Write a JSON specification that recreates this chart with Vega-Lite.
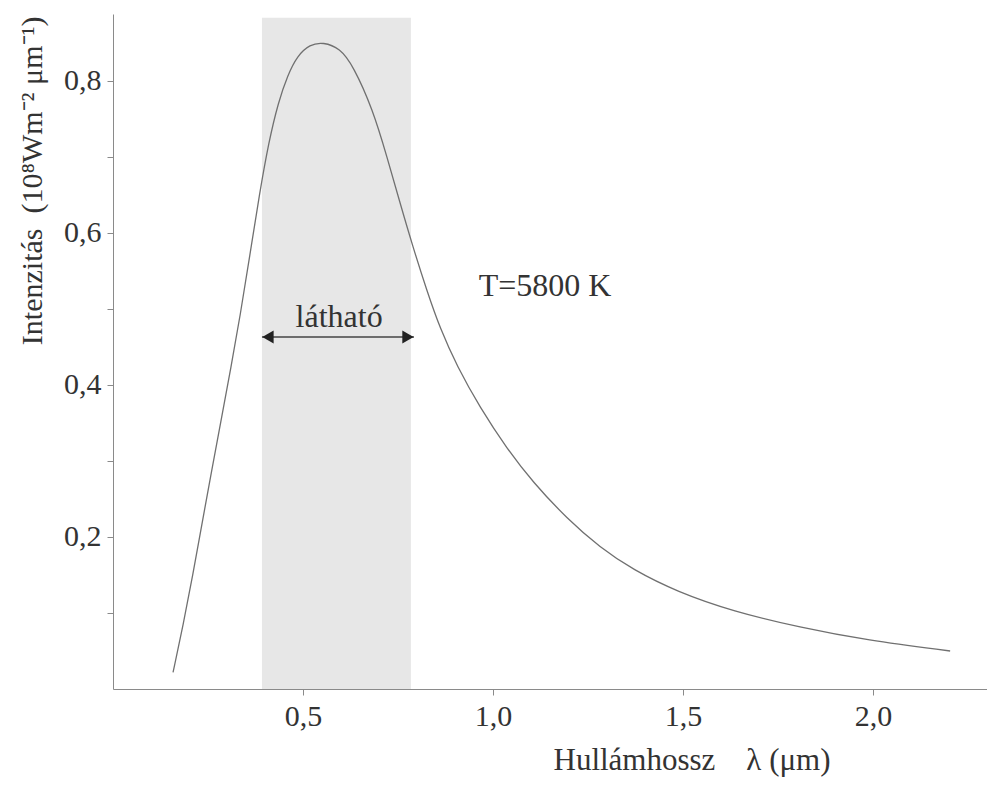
{
  "$schema": "https://vega.github.io/schema/vega-lite/v6.json",
  "width": 874,
  "height": 675,
  "autosize": {"type": "none"},
  "padding": {"left": 113, "top": 14, "right": 0, "bottom": 98},
  "background": "white",
  "config": {"view": {"stroke": null}, "font": "Liberation Serif"},
  "datasets": {
    "curve": [
      {"wl": 0.158, "I": 0.022}, {"wl": 0.185, "I": 0.085}, {"wl": 0.210, "I": 0.150},
      {"wl": 0.235, "I": 0.220}, {"wl": 0.260, "I": 0.288}, {"wl": 0.285, "I": 0.355},
      {"wl": 0.310, "I": 0.422}, {"wl": 0.335, "I": 0.492}, {"wl": 0.360, "I": 0.570},
      {"wl": 0.385, "I": 0.650}, {"wl": 0.410, "I": 0.720}, {"wl": 0.435, "I": 0.772},
      {"wl": 0.460, "I": 0.808}, {"wl": 0.485, "I": 0.833}, {"wl": 0.518, "I": 0.848},
      {"wl": 0.553, "I": 0.851}, {"wl": 0.597, "I": 0.843}, {"wl": 0.632, "I": 0.820},
      {"wl": 0.684, "I": 0.762}, {"wl": 0.721, "I": 0.700}, {"wl": 0.755, "I": 0.640},
      {"wl": 0.789, "I": 0.582}, {"wl": 0.826, "I": 0.524}, {"wl": 0.861, "I": 0.474},
      {"wl": 0.905, "I": 0.425}, {"wl": 0.966, "I": 0.370}, {"wl": 1.037, "I": 0.316},
      {"wl": 1.105, "I": 0.272}, {"wl": 1.195, "I": 0.224}, {"wl": 1.282, "I": 0.186},
      {"wl": 1.368, "I": 0.157}, {"wl": 1.484, "I": 0.128}, {"wl": 1.632, "I": 0.102},
      {"wl": 1.808, "I": 0.081}, {"wl": 1.984, "I": 0.064}, {"wl": 2.203, "I": 0.050}
    ],
    "band": [{"start": 0.392, "end": 0.784, "top": 0.883}],
    "arrow": [{"from": 0.392, "to": 0.792, "level": 0.463}],
    "notes": [
      {"x": 0.595, "y": 0.476, "text": "látható"},
      {"x": 1.137, "y": 0.517, "text": "T=5800 K"}
    ]
  },
  "layer": [
    {
      "data": {"name": "band"},
      "mark": {"type": "rect", "color": "#e7e7e7"},
      "encoding": {
        "x": {
          "field": "start", "type": "quantitative",
          "scale": {"domain": [0, 2.3], "nice": false, "zero": false},
          "axis": {
            "values": [0.5, 1.0, 1.5, 2.0],
            "labelExpr": "replace(format(datum.value, '.1f'), '.', ',')",
            "domainColor": "#8a8a8a", "tickColor": "#8a8a8a", "tickSize": 6,
            "labelFontSize": 30, "labelColor": "#333333", "labelPadding": 6,
            "labelFont": "Liberation Serif", "grid": false,
            "title": "Hullámhossz\u00a0\u00a0\u00a0\u00a0λ (μm)",
            "titleFont": "Liberation Serif", "titleFontSize": 31, "titleFontWeight": "normal",
            "titleColor": "#333333", "titleAlign": "left", "titleAnchor": null,
            "titleX": 440, "titleY": 80, "titleBaseline": "alphabetic"
          }
        },
        "x2": {"field": "end"},
        "y": {
          "field": "top", "type": "quantitative",
          "scale": {"domain": [0, 0.888], "nice": false},
          "axis": {
            "values": [0.1, 0.2, 0.3, 0.4, 0.5, 0.6, 0.7, 0.8],
            "labelExpr": "round(datum.value * 10) % 2 == 0 ? replace(format(datum.value, '.1f'), '.', ',') : ''",
            "domainColor": "#8a8a8a", "tickColor": "#8a8a8a", "tickSize": 6,
            "labelFontSize": 30, "labelColor": "#333333", "labelPadding": 6,
            "labelFont": "Liberation Serif", "grid": false,
            "title": "Intenzitás\u00a0\u00a0(10⁸Wm⁻² μm⁻¹)",
            "titleFont": "Liberation Serif", "titleFontSize": 30, "titleFontWeight": "normal",
            "titleColor": "#333333", "titleAngle": -90, "titleAlign": "right",
            "titleBaseline": "middle", "titleAnchor": null,
            "titleX": -81, "titleY": 2
          }
        },
        "y2": {"datum": 0}
      }
    },
    {
      "data": {"name": "curve"},
      "mark": {"type": "line", "color": "#707070", "strokeWidth": 1.3, "interpolate": "basis"},
      "encoding": {
        "x": {"field": "wl", "type": "quantitative", "scale": {"domain": [0, 2.3], "nice": false, "zero": false}},
        "y": {"field": "I", "type": "quantitative", "scale": {"domain": [0, 0.888], "nice": false}}
      }
    },
    {
      "data": {"name": "arrow"},
      "mark": {"type": "rule", "color": "#444444", "strokeWidth": 1.5},
      "encoding": {
        "x": {"field": "from", "type": "quantitative", "scale": {"domain": [0, 2.3], "nice": false, "zero": false}},
        "x2": {"field": "to"},
        "y": {"field": "level", "type": "quantitative", "scale": {"domain": [0, 0.888], "nice": false}}
      }
    },
    {
      "data": {"name": "arrow"},
      "mark": {"type": "point", "shape": "triangle-left", "filled": true, "color": "#222222", "size": 170, "opacity": 1, "xOffset": 6},
      "encoding": {
        "x": {"field": "from", "type": "quantitative", "scale": {"domain": [0, 2.3], "nice": false, "zero": false}},
        "y": {"field": "level", "type": "quantitative", "scale": {"domain": [0, 0.888], "nice": false}}
      }
    },
    {
      "data": {"name": "arrow"},
      "mark": {"type": "point", "shape": "triangle-right", "filled": true, "color": "#222222", "size": 170, "opacity": 1, "xOffset": -6},
      "encoding": {
        "x": {"field": "to", "type": "quantitative", "scale": {"domain": [0, 2.3], "nice": false, "zero": false}},
        "y": {"field": "level", "type": "quantitative", "scale": {"domain": [0, 0.888], "nice": false}}
      }
    },
    {
      "data": {"name": "notes"},
      "mark": {"type": "text", "font": "Liberation Serif", "fontSize": 32, "color": "#333333", "baseline": "alphabetic", "align": "center"},
      "encoding": {
        "x": {"field": "x", "type": "quantitative", "scale": {"domain": [0, 2.3], "nice": false, "zero": false}},
        "y": {"field": "y", "type": "quantitative", "scale": {"domain": [0, 0.888], "nice": false}},
        "text": {"field": "text"}
      }
    }
  ]
}
